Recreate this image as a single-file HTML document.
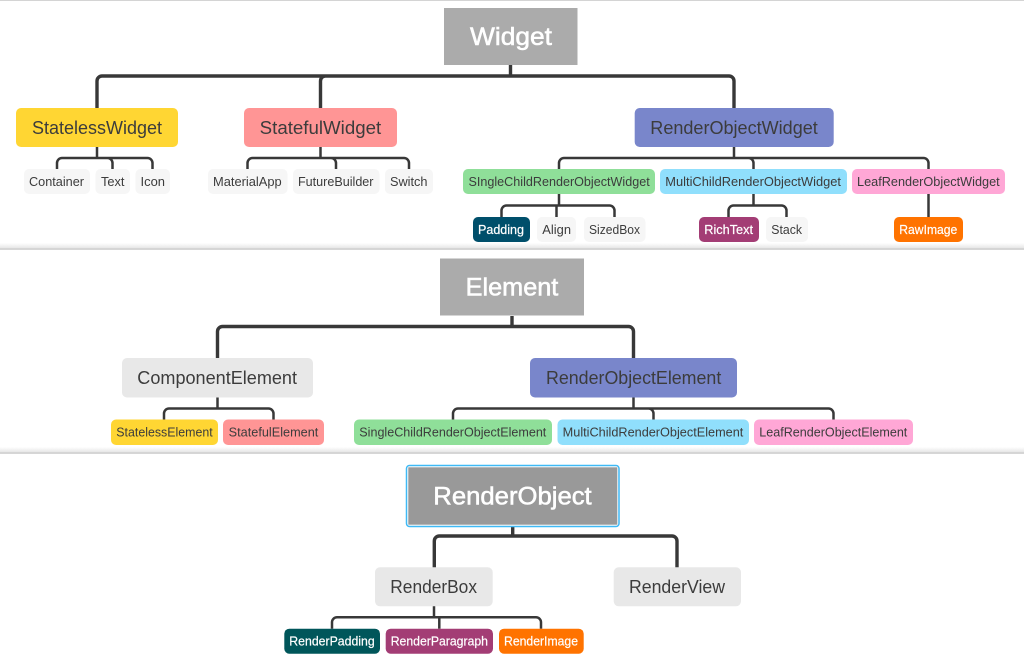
<!DOCTYPE html>
<html><head><meta charset="utf-8"><style>
html,body{margin:0;padding:0;background:#fff;width:1024px;height:665px;overflow:hidden}
svg{display:block;filter:blur(0.35px)}
text{font-family:"Liberation Sans",sans-serif;fill:#3c3c3c}
.l{font-size:18px}.s{font-size:12.5px}
.r{font-size:25px;fill:#fff;stroke:#fff;stroke-width:0.55px}
.w{fill:#fff;font-size:12.5px;stroke:#fff;stroke-width:0.2px}
.a{fill:none;stroke:#383838;stroke-width:3.4}.b{fill:none;stroke:#383838;stroke-width:2.5}
</style></head><body>
<svg width="1024" height="665" viewBox="0 0 1024 665" xmlns="http://www.w3.org/2000/svg">
<defs><linearGradient id="sh" x1="0" y1="0" x2="0" y2="1"><stop offset="0" stop-color="#fff"/><stop offset="1" stop-color="#e4e4e4"/></linearGradient></defs>
<rect x="0" y="0" width="1024" height="1" fill="#d4d4d4"/>
<rect x="0" y="243" width="1024" height="5.5" fill="url(#sh)"/><rect x="0" y="248.5" width="1024" height="1.2" fill="#c4c4c4"/>
<rect x="0" y="447" width="1024" height="5.5" fill="url(#sh)"/><rect x="0" y="452.5" width="1024" height="1.2" fill="#c4c4c4"/>

<!-- connectors: Widget -->
<path class="a" d="M510.5 65V76M97 108V81a5 5 0 0 1 5-5H729a5 5 0 0 1 5 5V108M320.5 108V81a5 5 0 0 1 5-5"/>
<path class="b" d="M97 147V158M57 169V163a5 5 0 0 1 5-5H147.500a5 5 0 0 1 5 5V169M107.500 158a5 5 0 0 1 5 5V169"/>
<path class="b" d="M320.500 147V158M247.500 169V163a5 5 0 0 1 5-5H404a5 5 0 0 1 5 5V169M331 158a5 5 0 0 1 5 5V169"/>
<path class="b" d="M734 147V158M559 169V163a5 5 0 0 1 5-5H923.500a5 5 0 0 1 5 5V169M748.500 158a5 5 0 0 1 5 5V169"/>
<path class="b" d="M559 194V205.500M556.500 217V205.500M501.500 217V210.500a5 5 0 0 1 5-5H609.500a5 5 0 0 1 5 5V217"/>
<path class="b" d="M753.500 194V205.500M728.500 217V210.500a5 5 0 0 1 5-5H781.500a5 5 0 0 1 5 5V217"/>
<path class="b" d="M928.500 194V217"/>
<!-- connectors: Element -->
<path class="a" d="M512 316V326.500M217.500 358V331.500a5 5 0 0 1 5-5H628.500a5 5 0 0 1 5 5V358"/>
<path class="b" d="M217.500 397V408.500M164 419.500V413.500a5 5 0 0 1 5-5H268.500a5 5 0 0 1 5 5V419.500"/>
<path class="b" d="M633.500 397V408.500M453 419.500V413.500a5 5 0 0 1 5-5H828.500a5 5 0 0 1 5 5V419.500M648.500 408.500a5 5 0 0 1 5 5V419.500"/>
<!-- connectors: RenderObject -->
<path class="a" d="M512.700 525V536M434.300 567.500V541a5 5 0 0 1 5-5H672a5 5 0 0 1 5 5V567.500"/>
<path class="b" d="M434 606V617.300M332 628.700V622.300a5 5 0 0 1 5-5H536a5 5 0 0 1 5 5V628.700M439.300 617.300V628.700"/>

<!-- Widget -->
<rect x="444" y="8" width="133.500" height="57" fill="#ababab"/>
<text class="r" x="470" y="45" textLength="82" lengthAdjust="spacingAndGlyphs">Widget</text>
<rect x="16" y="108" width="162" height="39" rx="5" fill="#ffd633"/>
<text class="l" x="32" y="134" textLength="130" lengthAdjust="spacingAndGlyphs">StatelessWidget</text>
<rect x="244" y="108" width="153" height="39" rx="5" fill="#ff9595"/>
<text class="l" x="259.700" y="134" textLength="121.500" lengthAdjust="spacingAndGlyphs">StatefulWidget</text>
<rect x="634.700" y="108" width="199" height="39" rx="5" fill="#7986cb"/>
<text class="l" x="650.300" y="134" textLength="167.500" lengthAdjust="spacingAndGlyphs">RenderObjectWidget</text>

<rect x="24" y="169" width="66" height="25" rx="5" fill="#f6f6f6"/>
<text class="s" x="29" y="186" textLength="55" lengthAdjust="spacingAndGlyphs">Container</text>
<rect x="95.500" y="169" width="34.500" height="25" rx="5" fill="#f6f6f6"/>
<text class="s" x="101" y="186" textLength="23.500" lengthAdjust="spacingAndGlyphs">Text</text>
<rect x="135.500" y="169" width="34.500" height="25" rx="5" fill="#f6f6f6"/>
<text class="s" x="140.500" y="186" textLength="24.500" lengthAdjust="spacingAndGlyphs">Icon</text>
<rect x="208" y="169" width="79.500" height="25" rx="5" fill="#f6f6f6"/>
<text class="s" x="213" y="186" textLength="68.700" lengthAdjust="spacingAndGlyphs">MaterialApp</text>
<rect x="293" y="169" width="86.500" height="25" rx="5" fill="#f6f6f6"/>
<text class="s" x="298" y="186" textLength="75.500" lengthAdjust="spacingAndGlyphs">FutureBuilder</text>
<rect x="385" y="169" width="48" height="25" rx="5" fill="#f6f6f6"/>
<text class="s" x="390" y="186" textLength="37.500" lengthAdjust="spacingAndGlyphs">Switch</text>
<rect x="463" y="169" width="192" height="25" rx="5" fill="#8fdf99"/>
<text class="s" x="468.500" y="186" textLength="181.200" lengthAdjust="spacingAndGlyphs">SIngleChildRenderObjectWidget</text>
<rect x="660" y="169" width="187" height="25" rx="5" fill="#90dffc"/>
<text class="s" x="665.300" y="186" textLength="175.700" lengthAdjust="spacingAndGlyphs">MultiChildRenderObjectWidget</text>
<rect x="852" y="169" width="153" height="25" rx="5" fill="#ffa7d6"/>
<text class="s" x="857" y="186" textLength="142.700" lengthAdjust="spacingAndGlyphs">LeafRenderObjectWidget</text>

<rect x="473" y="217" width="57" height="25" rx="5" fill="#004f6b"/>
<text class="w" x="478" y="234" textLength="46" lengthAdjust="spacingAndGlyphs">Padding</text>
<rect x="537" y="217" width="39" height="25" rx="5" fill="#f6f6f6"/>
<text class="s" x="542.300" y="234" textLength="28.700" lengthAdjust="spacingAndGlyphs">Align</text>
<rect x="584" y="217" width="61.500" height="25" rx="5" fill="#f6f6f6"/>
<text class="s" x="589" y="234" textLength="51" lengthAdjust="spacingAndGlyphs">SizedBox</text>
<rect x="699" y="217" width="60" height="25" rx="5" fill="#a33d75"/>
<text class="w" x="704.300" y="234" textLength="48.700" lengthAdjust="spacingAndGlyphs">RichText</text>
<rect x="766" y="217" width="42" height="25" rx="5" fill="#f6f6f6"/>
<text class="s" x="771.300" y="234" textLength="30.700" lengthAdjust="spacingAndGlyphs">Stack</text>
<rect x="894" y="217" width="69" height="25" rx="5" fill="#ff7300"/>
<text class="w" x="899.300" y="234" textLength="58" lengthAdjust="spacingAndGlyphs">RawImage</text>

<!-- Element -->
<rect x="440" y="258.500" width="144" height="57" fill="#ababab"/>
<text class="r" x="465.700" y="295.500" textLength="92.600" lengthAdjust="spacingAndGlyphs">Element</text>
<rect x="122" y="358" width="191" height="39.500" rx="5" fill="#e8e8e8"/>
<text class="l" x="137.300" y="384" textLength="159.700" lengthAdjust="spacingAndGlyphs">ComponentElement</text>
<rect x="530" y="358" width="207" height="39.500" rx="5" fill="#7986cb"/>
<text class="l" x="546" y="384" textLength="175.300" lengthAdjust="spacingAndGlyphs">RenderObjectElement</text>
<rect x="111" y="419.500" width="107" height="25.500" rx="5" fill="#ffd633"/>
<text class="s" x="116.300" y="436.500" textLength="96.400" lengthAdjust="spacingAndGlyphs">StatelessElement</text>
<rect x="223" y="419.500" width="101" height="25.500" rx="5" fill="#ff9595"/>
<text class="s" x="228.700" y="436.500" textLength="89.600" lengthAdjust="spacingAndGlyphs">StatefulElement</text>
<rect x="354" y="419.500" width="198" height="25.500" rx="5" fill="#8fdf99"/>
<text class="s" x="359.300" y="436.500" textLength="187" lengthAdjust="spacingAndGlyphs">SingleChildRenderObjectElement</text>
<rect x="557.500" y="419.500" width="191.500" height="25.500" rx="5" fill="#90dffc"/>
<text class="s" x="562.700" y="436.500" textLength="180.600" lengthAdjust="spacingAndGlyphs">MultiChildRenderObjectElement</text>
<rect x="754" y="419.500" width="159" height="25.500" rx="5" fill="#ffa7d6"/>
<text class="s" x="759.300" y="436.500" textLength="148" lengthAdjust="spacingAndGlyphs">LeafRenderObjectElement</text>

<!-- RenderObject -->
<rect x="406.500" y="465.500" width="212.500" height="61" rx="3" fill="#fff" stroke="#3fb9f5" stroke-width="1.500"/>
<rect x="408.300" y="467.300" width="209" height="57.400" fill="#999"/>
<text class="r" x="433.300" y="504.500" textLength="158.400" lengthAdjust="spacingAndGlyphs">RenderObject</text>
<rect x="375" y="567.300" width="117.700" height="39" rx="5" fill="#e8e8e8"/>
<text class="l" x="390.300" y="593" textLength="86.700" lengthAdjust="spacingAndGlyphs">RenderBox</text>
<rect x="613.700" y="567.300" width="127.300" height="39" rx="5" fill="#e8e8e8"/>
<text class="l" x="629" y="593" textLength="96" lengthAdjust="spacingAndGlyphs">RenderView</text>
<rect x="284.300" y="628.700" width="95.700" height="25" rx="5" fill="#00565a"/>
<text class="w" x="289.300" y="645.700" textLength="85.400" lengthAdjust="spacingAndGlyphs">RenderPadding</text>
<rect x="385.700" y="628.700" width="107.300" height="25" rx="5" fill="#a33d75"/>
<text class="w" x="390.700" y="645.700" textLength="97.300" lengthAdjust="spacingAndGlyphs">RenderParagraph</text>
<rect x="499" y="628.700" width="84.700" height="25" rx="5" fill="#ff7300"/>
<text class="w" x="504" y="645.700" textLength="74" lengthAdjust="spacingAndGlyphs">RenderImage</text>
</svg>
</body></html>
